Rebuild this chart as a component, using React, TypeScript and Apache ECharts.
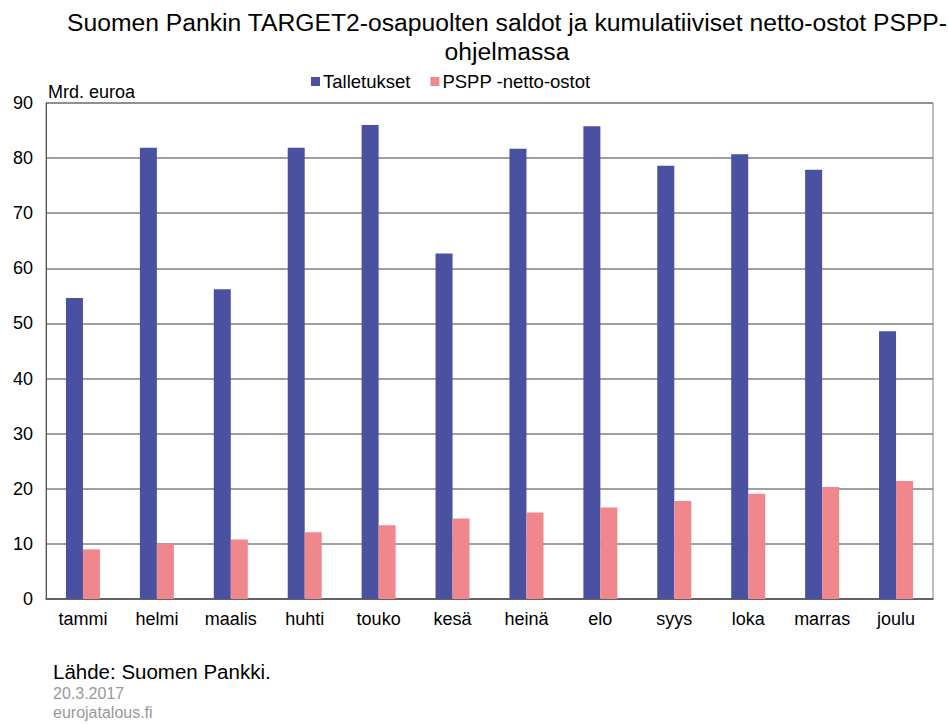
import React, { useEffect, useRef } from "react";
import * as echarts from "echarts";

const categories = ["tammi", "helmi", "maalis", "huhti", "touko", "kesä", "heinä", "elo", "syys", "loka", "marras", "joulu"];
const talletukset = [54.6, 81.9, 56.2, 81.9, 86.0, 62.7, 81.7, 85.8, 78.6, 80.7, 77.9, 48.6];
const pspp = [9.0, 10.0, 10.8, 12.1, 13.4, 14.6, 15.7, 16.6, 17.8, 19.1, 20.3, 21.4];
const seriesNames = ["Talletukset", "PSPP -netto-ostot"];
const titleText = "Suomen Pankin TARGET2-osapuolten saldot ja kumulatiiviset netto-ostot PSPP-\nohjelmassa";
const unitText = "Mrd. euroa";
const sourceText = "Lähde: Suomen Pankki.";
const dateText = "20.3.2017";
const siteText = "eurojatalous.fi";

const FONT = "'Liberation Sans', Arial, sans-serif";

export default function App() {
  const ref = useRef<HTMLDivElement>(null);
  useEffect(() => {
    if (!ref.current) return;
    const chart = echarts.init(ref.current, null, { renderer: "svg" });
    chart.setOption({
      animation: false,
      backgroundColor: "#ffffff",
      textStyle: { fontFamily: FONT },
      title: {
        text: titleText,
        left: 502,
        textAlign: "center",
        top: 3,
        textStyle: { fontFamily: FONT, fontSize: 24.7, fontWeight: "normal", color: "#000", lineHeight: 29 },
      },
      legend: {
        data: seriesNames,
        top: 67,
        left: 306,
        itemWidth: 9,
        itemHeight: 9,
        itemGap: 20,
        icon: "rect",
        textStyle: { fontFamily: FONT, fontSize: 18.5, color: "#000", padding: [0, 0, 0, -2] },
      },
      grid: {
        left: 46,
        right: 15,
        top: 103,
        bottom: 125,
        show: true,
        borderColor: "#808080",
        borderWidth: 1,
        containLabel: false,
      },
      xAxis: {
        type: "category",
        data: categories,
        axisTick: { show: false },
        axisLine: { lineStyle: { color: "#555", width: 1.5 } },
        axisLabel: { fontFamily: FONT, fontSize: 18, color: "#000", margin: 11 },
      },
      yAxis: {
        type: "value",
        min: 0,
        max: 90,
        interval: 10,
        axisLine: { show: true, lineStyle: { color: "#555", width: 1 } },
        axisTick: { show: false },
        splitLine: { lineStyle: { color: "#808080", width: 1.5 } },
        axisLabel: { fontFamily: FONT, fontSize: 18, color: "#000", margin: 13 },
      },
      graphic: [
        { type: "text", left: 48, top: 83, style: { text: unitText, fontFamily: FONT, fontSize: 18, fill: "#000" } },
        { type: "text", left: 53, top: 661, style: { text: sourceText, fontFamily: FONT, fontSize: 20.5, fill: "#000" } },
        { type: "text", left: 53, top: 685, style: { text: dateText, fontFamily: FONT, fontSize: 16, fill: "#999" } },
        { type: "text", left: 53, top: 704, style: { text: siteText, fontFamily: FONT, fontSize: 16, fill: "#999" } },
      ],
      series: [
        {
          name: seriesNames[0],
          type: "bar",
          data: talletukset,
          barWidth: 17,
          barGap: "0%",
          itemStyle: { color: "#4a51a1" },
        },
        {
          name: seriesNames[1],
          type: "bar",
          data: pspp,
          barWidth: 17,
          barGap: "0%",
          itemStyle: { color: "#ef878d" },
        },
      ],
    });
    return () => chart.dispose();
  }, []);
  return <div ref={ref} style={{ position: "fixed", left: 0, top: 0, width: 948, height: 724 }} />;
}
